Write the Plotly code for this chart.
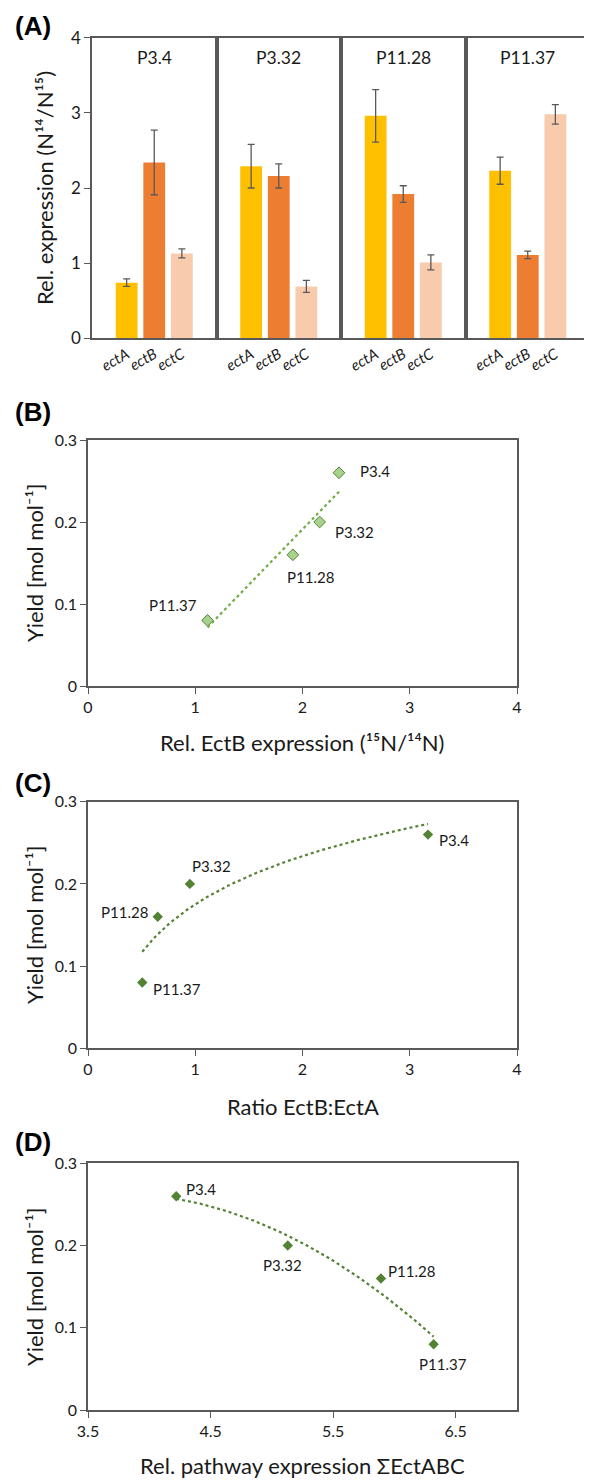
import plotly.graph_objects as go
import numpy as np

# ---------------- data ----------------
strains = ["P3.4", "P3.32", "P11.28", "P11.37"]
genes = ["ectA", "ectB", "ectC"]
ectA = [0.74, 2.29, 2.96, 2.23]
ectB = [2.34, 2.16, 1.92, 1.11]
ectC = [1.13, 0.69, 1.01, 2.98]
ectA_err = [0.05, 0.29, 0.35, 0.18]
ectB_err = [0.43, 0.16, 0.11, 0.05]
ectC_err = [0.06, 0.08, 0.10, 0.13]

yields = [0.26, 0.20, 0.16, 0.08]
ectB_rel = [2.34, 2.16, 1.91, 1.115]          # panel B x
ratio_BA = [3.17, 0.95, 0.65, 0.506]          # panel C x
pathway_sum = [4.22, 5.13, 5.89, 6.32]        # panel D x

gene_colors = ["#FFC000", "#ED7D31", "#F8CBAD"]

FONT = "Lato"
TXT = "#1a1a1a"
AX = "#595959"
OFF = 8                      # page body margin of the browser
W, H = 592 - OFF, 1481 - OFF
TICK = 16
TITLE = 22
LAB = 15


def px(x):
    return (x - OFF) / W


def py(y):
    return 1 - (y - OFF) / H


fig = go.Figure()


def title_ann(text, x, y, angle=0, size=TITLE):
    fig.add_annotation(text=text, xref="paper", yref="paper", x=px(x), y=py(y),
                       xanchor="center", yanchor="middle", textangle=angle, showarrow=False,
                       font=dict(family=FONT, size=size, color=TXT))


# ---------------- panel A ----------------
xA0, xA1 = px(92), px(590)
yA = [py(338.3), py(37.7)]
wA = (xA1 - xA0) / 4
for i, s in enumerate(strains):
    n = "" if i == 0 else str(i + 1)
    vals = [ectA[i], ectB[i], ectC[i]]
    errs = [ectA_err[i], ectB_err[i], ectC_err[i]]
    fig.add_trace(go.Bar(
        x=genes, y=vals, marker=dict(color=gene_colors, line=dict(width=0)),
        error_y=dict(type="data", array=errs, color="#595959", thickness=1.3, width=3.5),
        xaxis="x" + n, yaxis="y" + n, showlegend=False, width=0.79,
    ))
    fig.layout["xaxis" + n] = dict(
        domain=[xA0 + i * wA, xA0 + (i + 1) * wA], anchor="y" + n,
        type="category", range=[-1.255, 3.255],
        tickmode="array", tickvals=genes, ticktext=["<i>%s</i>" % g for g in genes],
        tickangle=-30, tickfont=dict(family=FONT, size=15, color=TXT),
        showline=True, linecolor=AX, linewidth=1.5, mirror=True,
        ticks="", showgrid=False, zeroline=False, fixedrange=True, automargin=False,
    )
    yd = dict(
        domain=yA, anchor="x" + n, range=[0, 4], dtick=1,
        showline=True, linecolor=AX, linewidth=1.5, mirror=True,
        showgrid=False, zeroline=False, automargin=False,
        tickfont=dict(family=FONT, size=17, color=TXT),
    )
    if i == 0:
        yd.update(ticks="outside", ticklen=6, tickcolor=AX, showticklabels=True)
    else:
        yd.update(ticks="", showticklabels=False)
    fig.layout["yaxis" + n] = yd
    fig.add_annotation(text=s, xref="x%s domain" % n, yref="y%s domain" % n,
                       x=0.5, y=0.935, showarrow=False, xanchor="center", yanchor="middle",
                       font=dict(family=FONT, size=17.5, color=TXT))

title_ann("Rel. expression (N¹⁴/N¹⁵)", 45, 188, -90)


# ---------------- scatter panels ----------------
def scatter_panel(k, xs, xrng, ydom, mcolor, mline, msize, lcolor, fit_kind, label_pos,
                  tickvals, ticktext):
    xa, ya = "x%d" % k, "y%d" % k
    fig.add_trace(go.Scatter(
        x=xs, y=yields, mode="markers", xaxis=xa, yaxis=ya, showlegend=False,
        marker=dict(symbol="diamond", size=msize, color=mcolor,
                    line=dict(color=mline if mline else mcolor, width=1 if mline else 0)),
    ))
    xa_arr = np.array(xs, dtype=float)
    ya_arr = np.array(yields, dtype=float)
    xf = np.linspace(xa_arr.min(), xa_arr.max(), 120)
    if fit_kind == "lin":
        yf = np.polyval(np.polyfit(xa_arr, ya_arr, 1), xf)
    elif fit_kind == "log":
        yf = np.polyval(np.polyfit(np.log(xa_arr), ya_arr, 1), np.log(xf))
    else:
        yf = np.polyval(np.polyfit(xa_arr, ya_arr, 2), xf)
    fig.add_trace(go.Scatter(x=xf, y=yf, mode="lines", xaxis=xa, yaxis=ya, showlegend=False,
                             line=dict(color=lcolor, width=2.2, dash="dot")))
    for i, s in enumerate(strains):
        anc, dx, dy = label_pos[i]
        fig.add_annotation(text=s, x=xs[i], y=yields[i], xref=xa, yref=ya,
                           showarrow=False, xanchor=anc, yanchor="middle",
                           xshift=dx, yshift=dy,
                           font=dict(family=FONT, size=LAB, color=TXT))
    fig.layout["xaxis%d" % k] = dict(
        domain=[px(88), px(517)], anchor=ya, range=xrng,
        tickmode="array", tickvals=tickvals, ticktext=ticktext,
        showline=True, linecolor=AX, linewidth=1.5, mirror=True, automargin=False,
        ticks="outside", ticklen=6, tickcolor=AX, showgrid=False, zeroline=False,
        tickfont=dict(family=FONT, size=TICK, color=TXT),
    )
    fig.layout["yaxis%d" % k] = dict(
        domain=ydom, anchor=xa, range=[0, 0.3],
        tickmode="array", tickvals=[0, 0.1, 0.2, 0.3], ticktext=["0", "0.1", "0.2", "0.3"],
        showline=True, linecolor=AX, linewidth=1.5, mirror=True, automargin=False,
        ticks="outside", ticklen=6, tickcolor=AX, showgrid=False, zeroline=False,
        tickfont=dict(family=FONT, size=TICK, color=TXT),
    )


int_ticks = [0, 1, 2, 3, 4]
int_text = ["0", "1", "2", "3", "4"]
scatter_panel(5, ectB_rel, [0, 4], [py(686), py(440)],
              "#A9D18E", "#548235", 9, "#70AD47", "lin",
              [("left", 19, 2), ("left", 13, -10), ("center", 18, -22), ("right", -9, 15)],
              int_ticks, int_text)
scatter_panel(6, ratio_BA, [0, 4], [py(1048.3), py(801.7)],
              "#548235", None, 8, "#548235", "log",
              [("left", 9, -5), ("left", 0, 18), ("right", -8, 5), ("left", 9, -6)],
              int_ticks, int_text)
scatter_panel(7, pathway_sum, [3.5, 7], [py(1410), py(1163.3)],
              "#548235", None, 8, "#548235", "poly",
              [("left", 8, 7), ("center", -5, -19), ("left", 5, 7), ("center", 9, -20)],
              [3.5, 4.5, 5.5, 6.5], ["3.5", "4.5", "5.5", "6.5"])

# axis titles
title_ann("Yield [mol mol⁻¹]", 34, 563, -90)
title_ann("Rel. EctB expression (¹⁵N/¹⁴N)", 302, 742)
title_ann("Yield [mol mol⁻¹]", 34, 925, -90)
title_ann("Ratio EctB:EctA", 303, 1106)
title_ann("Yield [mol mol⁻¹]", 34, 1287, -90)
title_ann("Rel. pathway expression ΣEctABC", 302, 1465)

# panel letters
for lab, yy in [("(A)", 26), ("(B)", 412), ("(C)", 783), ("(D)", 1142)]:
    fig.add_annotation(text="<b>%s</b>" % lab, xref="paper", yref="paper",
                       x=px(13), y=py(yy), xanchor="left", yanchor="middle",
                       showarrow=False,
                       font=dict(family="Liberation Sans", size=26, color="#000"))

fig.update_layout(
    width=W, height=H, autosize=False,
    margin=dict(l=0, r=0, t=0, b=0),
    paper_bgcolor="white", plot_bgcolor="white",
    bargap=0.21, showlegend=False,
)

fig.write_html("out.html")
